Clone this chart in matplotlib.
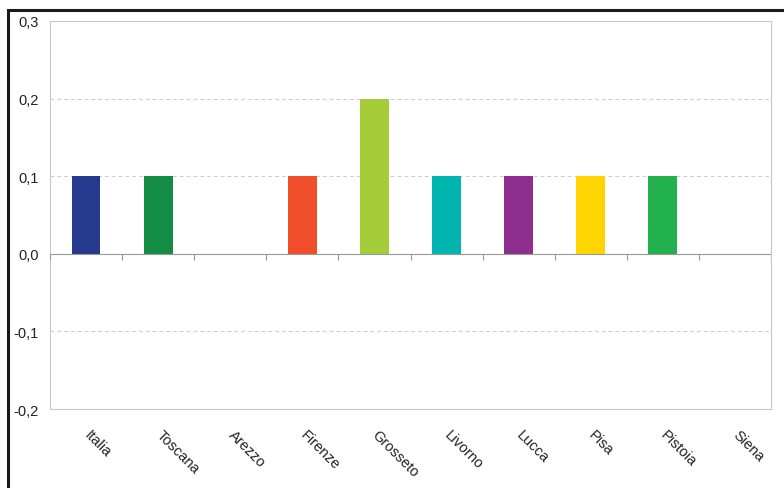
import matplotlib.pyplot as plt
import matplotlib.transforms as mtransforms
from matplotlib.patches import Rectangle
import numpy as np

plt.rcParams["font.family"] = ["Liberation Sans", "DejaVu Sans"]

categories = ["Italia", "Toscana", "Arezzo", "Firenze", "Grosseto", "Livorno", "Lucca", "Pisa", "Pistoia", "Siena"]
values = [0.1, 0.1, 0.0, 0.1, 0.2, 0.1, 0.1, 0.1, 0.1, 0.0]
colors = ["#253a8c", "#138d44", "#888888", "#f04e2a", "#a5cd39", "#00b5b0", "#8e2f8f", "#ffd500", "#22b14c", "#888888"]
yticks = [-0.2, -0.1, 0.0, 0.1, 0.2, 0.3]

fig = plt.figure(figsize=(7.84, 4.89), dpi=100)
fig.patches.append(Rectangle((8 / 784, -0.1), 1.2, (489 - 11) / 489 + 0.1, transform=fig.transFigure,
                             fill=False, edgecolor="#1a1a1a", linewidth=2.2))
ax = fig.add_axes([50 / 784, 79 / 489, 721 / 784, 388 / 489])

x = np.arange(len(categories))
ax.bar(x, values, width=0.4, color=colors, zorder=3)

ax.set_xlim(-0.5, len(categories) - 0.5)
ax.set_ylim(-0.2, 0.3)
ax.set_yticks(yticks)
ax.set_yticklabels([f"{v:.1f}".replace(".", ",") for v in yticks], fontsize=10.5, color="#222222")
for v in yticks:
    ax.axhline(v, color="#cccccc", linestyle=(0, (4, 3)), linewidth=0.7, zorder=1)
ax.axhline(0, color="#999999", linewidth=0.8, zorder=4)
bounds = np.arange(len(categories) + 1) - 0.5
ax.vlines(bounds, -0.008, 0, color="#999999", linewidth=0.8, zorder=4)

ax.set_xticks(x)
ax.set_xticklabels(categories, rotation=-45, ha="left", va="top", rotation_mode="anchor", fontsize=10.5, color="#222222")
ax.tick_params(axis="x", length=0, pad=13)
ax.tick_params(axis="y", length=0, pad=8)
shift = mtransforms.ScaledTranslation(5 / 100, 0, fig.dpi_scale_trans)
for lab in ax.get_xticklabels():
    lab.set_transform(lab.get_transform() + shift)
for s in ax.spines.values():
    s.set_color("#c8c8c8")
    s.set_linewidth(0.8)

fig.savefig("out.png", dpi=100)
